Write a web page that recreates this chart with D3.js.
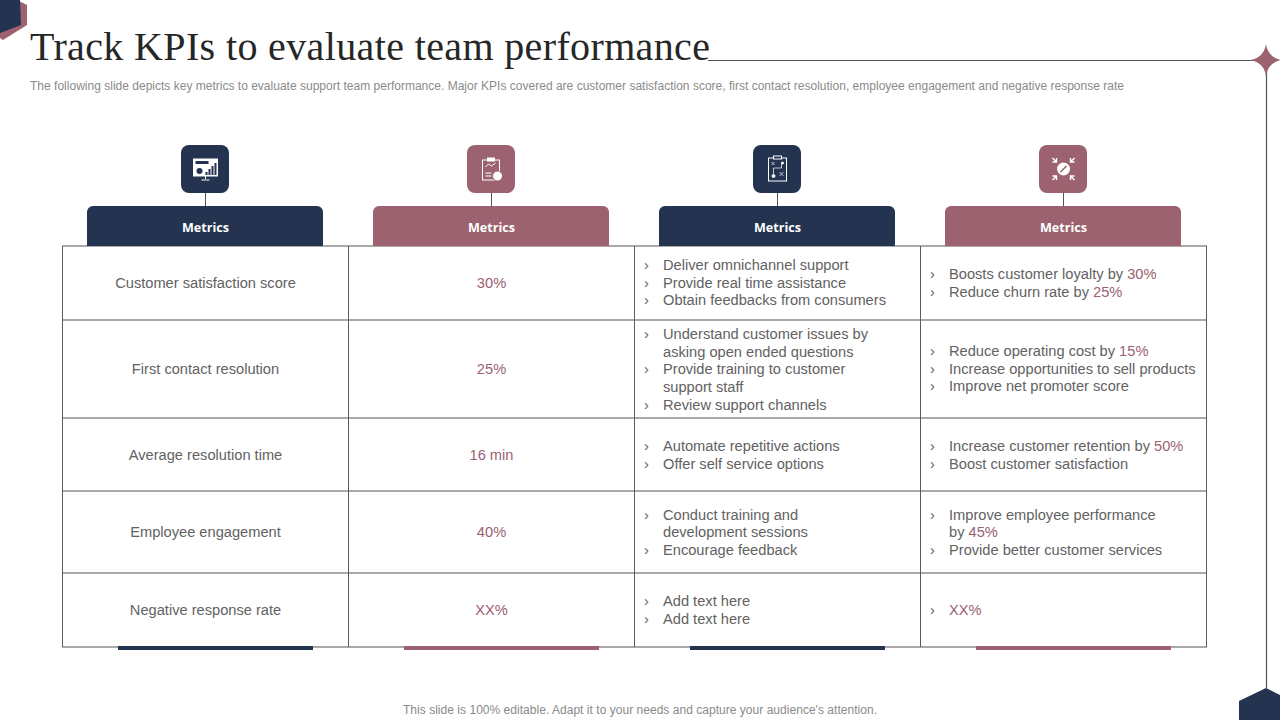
<!DOCTYPE html>
<html><head><meta charset="utf-8">
<script src="https://cdn.jsdelivr.net/npm/d3@7"></script>
<style>html,body{margin:0;padding:0;background:#fff;overflow:hidden}svg{display:block}text{font-family:"Liberation Sans",Arial,sans-serif}</style>
</head><body><div id="c"></div>
<script>
const titleText = "Track KPIs to evaluate team performance";
const subtitleText = "The following slide depicts key metrics to evaluate support team performance. Major KPIs covered are customer satisfaction score, first contact resolution, employee engagement and negative response rate";
const footerText = "This slide is 100% editable. Adapt it to your needs and capture your audience's attention.";
const headers = ["Metrics","Metrics","Metrics","Metrics"];
const metrics = ["Customer satisfaction score","First contact resolution","Average resolution time","Employee engagement","Negative response rate"];
const targets = ["30%","25%","16 min","40%","XX%"];
const actions = [
 [["Deliver omnichannel support"],["Provide real time assistance"],["Obtain feedbacks from consumers"]],
 [["Understand customer issues by","asking open ended questions"],["Provide training to customer","support staff"],["Review support channels"]],
 [["Automate repetitive actions"],["Offer self service options"]],
 [["Conduct training and","development sessions"],["Encourage feedback"]],
 [["Add text here"],["Add text here"]]
];
const outcomes = [
 [["Boosts customer loyalty by 30%"],["Reduce churn rate by 25%"]],
 [["Reduce operating cost by 15%"],["Increase opportunities to sell products"],["Improve net promoter score"]],
 [["Increase customer retention by 50%"],["Boost customer satisfaction"]],
 [["Improve employee performance","by 45%"],["Provide better customer services"]],
 [["XX%"]]
];

const NAVY="#233350", ROSE="#9c626f", INK="#626262", ACC="#9c5f70", FS=14.65;
const colIdx=d3.range(4);
const x=d3.scaleBand().domain(colIdx).range([62.5,1206.5]);
const edges=[246,320,418,491,573,647];
const rowY=d3.scaleOrdinal().domain(d3.range(5)).range(d3.range(5).map(i=>(edges[i]+edges[i+1])/2));
const fill=i=>i%2?ROSE:NAVY;

const svg=d3.select("#c").append("svg").attr("width",1280).attr("height",720);

// corner decorations
svg.append("polygon").attr("points","17,0 27,5 27,25 3,40 0,38 0,0").attr("fill",ROSE);
svg.append("polygon").attr("points","0,0 20,0 21,25 0,33").attr("fill",NAVY);
svg.append("polygon").attr("points","1239,701 1266,688 1280,695 1280,720 1239,720").attr("fill",NAVY);
svg.append("path").attr("d","M708,60.5H1266.5V688").attr("fill","none").attr("stroke","#555").attr("stroke-width",1.2);
svg.append("path").attr("transform","translate(1266,60)")
  .attr("d","M0,-16Q2,-3 15,0Q2,3 0,16Q-2,3 -15,0Q-2,-3 0,-16Z").attr("fill",ROSE);

// titles
svg.append("text").attr("x",30).attr("y",60).attr("font-size",40).attr("fill","#262626")
  .style("font-family","'Liberation Serif',serif").attr("textLength",680).text(titleText);
svg.append("text").attr("x",30).attr("y",90).attr("font-size",12).attr("fill","#8a8a8a").attr("textLength",1094).text(subtitleText);
svg.append("text").attr("x",403).attr("y",714).attr("font-size",12).attr("fill","#8a8a8a").attr("textLength",474).text(footerText);

// grid
const grid=svg.append("g");
edges.forEach(e=>grid.append("line").attr("x1",62).attr("x2",1207).attr("y1",e).attr("y2",e).attr("stroke","#8c8c8c").attr("stroke-width",1.3));
[...colIdx.map(i=>x(i)),1206.5].forEach(v=>grid.append("line").attr("x1",v).attr("x2",v).attr("y1",246).attr("y2",647).attr("stroke","#5a5a5a").attr("stroke-width",1));

// bottom accent bars
svg.selectAll("rect.foot").data(colIdx).join("rect").attr("class","foot")
  .attr("x",i=>x(i)+55.5).attr("y",646).attr("width",195).attr("height",4).attr("fill",fill);

// headers and icon tiles
const head=svg.selectAll("g.head").data(headers).join("g").attr("class","head")
  .attr("transform",(d,i)=>`translate(${x(i)+x.bandwidth()/2},0)`);
head.append("line").attr("y1",193).attr("y2",206).attr("stroke","#555");
head.append("path").attr("d","M-118.5,246V212a6,6 0 0 1 6,-6H111.5a6,6 0 0 1 6,6V246Z").attr("fill",(d,i)=>fill(i));
head.append("text").attr("y",231.5).attr("text-anchor","middle").attr("font-size",12.6).attr("font-weight",700).attr("fill","#fff")
  .style("font-family","'Open Sans',sans-serif").text(d=>d);
head.append("rect").attr("x",-24.5).attr("y",145).attr("width",48).attr("height",48).attr("rx",8).attr("fill",(d,i)=>fill(i));

const W="#fff";
const ic=head.append("g").attr("transform","translate(0,169)").attr("fill","none").attr("stroke",W).attr("stroke-width",1);
// monitor
const a=d3.select(ic.nodes()[0]);
a.append("rect").attr("x",-12).attr("y",-10).attr("width",24).attr("height",17).attr("fill",W);
a.append("rect").attr("x",-10).attr("y",-8).attr("width",13).attr("height",3).attr("fill",NAVY).attr("stroke","none");
a.append("circle").attr("cx",-6).attr("cy",2).attr("r",3).attr("fill",NAVY).attr("stroke","none");
[0,3,6,9].forEach((o,k)=>a.append("rect").attr("x",o).attr("y",3-k*3).attr("width",2).attr("height",3+k*3).attr("fill",NAVY).attr("stroke","none"));
a.append("path").attr("d","M0,7V10M-4,11H4");
// clipboard
const b=d3.select(ic.nodes()[1]);
b.append("rect").attr("x",-9).attr("y",-9).attr("width",17).attr("height",20);
b.append("rect").attr("x",-4).attr("y",-11).attr("width",7).attr("height",3).attr("fill",W);
b.append("path").attr("d","M-6,-2L-3,-5L0,-3L4,-6M-6,4H0M-6,7H0");
b.append("circle").attr("cx",6).attr("cy",7).attr("r",5).attr("fill",W).attr("stroke",ROSE);
// play sheet
const c=d3.select(ic.nodes()[2]);
c.append("rect").attr("x",-9).attr("y",-11).attr("width",18).attr("height",23);
c.append("rect").attr("x",-4).attr("y",-13).attr("width",8).attr("height",3).attr("fill",NAVY);
c.append("path").attr("d","M-4,5V-1H4V-6").attr("stroke-width",.7);
c.append("circle").attr("cx",-4).attr("cy",7).attr("r",1.5).attr("fill",W);
c.append("circle").attr("cx",5).attr("cy",-6).attr("r",1).attr("fill",W);
c.append("path").attr("d","M2,3L6,7M6,3L2,7M-6,-7L-3,-4M-3,-7L-6,-4").attr("stroke-width",.7);
// arrows and target
const e4=d3.select(ic.nodes()[3]);
e4.append("circle").attr("r",6.5).attr("fill",W).attr("stroke","none");
e4.append("path").attr("d","M-3,3L3,-3").attr("stroke",ROSE).attr("stroke-width",1.6);
[[-1,-1],[1,-1],[-1,1],[1,1]].forEach(([p,q])=>e4.append("path").attr("stroke-width",1.4)
  .attr("d",`M${p*11},${q*11}L${p*7},${q*7}M${p*7},${q*11}V${q*7}H${p*11}`));

// cells
const center=(col,arr,color)=>svg.append("g").selectAll("text").data(arr).join("text")
  .attr("x",x(col)+x.bandwidth()/2).attr("y",(d,i)=>rowY(i)+5).attr("text-anchor","middle").attr("font-size",FS).attr("fill",color).text(d=>d);
center(0,metrics,INK);
center(1,targets,ACC);

const LH=17.6;
function bullets(col,data,nudge){
  const tx=x(col)+28.5, bx=x(col)+9.5;
  const g=svg.append("g");
  data.forEach((items,r)=>{
    const total=d3.sum(items,d=>d.length);
    let k=0;
    items.forEach(lines=>{
      lines.forEach((ln,j)=>{
        const y=rowY(r)-(total-1)*LH/2+k*LH+5+nudge[r];
        if(j===0) g.append("text").attr("x",bx).attr("y",y).attr("font-size",FS).attr("fill",INK).text("›");
        const t=g.append("text").attr("x",tx).attr("y",y).attr("font-size",FS).attr("fill",INK);
        ln.split(/(\d+%|XX%)/).filter(s=>s).forEach(s=>{
          const sp=t.append("tspan").text(s);
          if(/%$/.test(s)) sp.attr("fill",ACC);
        });
        k++;
      });
    });
  });
}
bullets(2,actions,[-.2,.3,.3,.2,0]);
bullets(3,outcomes,[0,-.2,.3,.2,0]);
</script></body></html>
